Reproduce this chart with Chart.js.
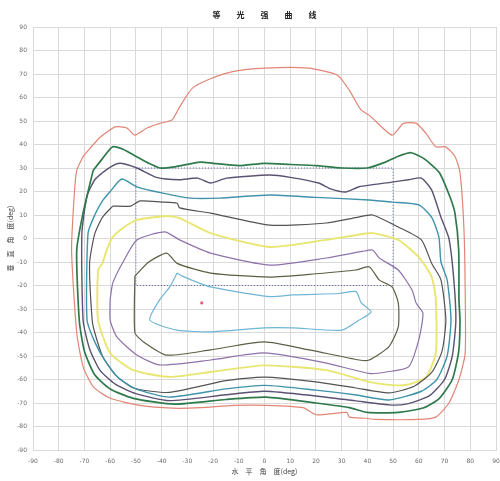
<!DOCTYPE html>
<html>
<head>
<meta charset="utf-8">
<script src="https://cdn.jsdelivr.net/npm/chart.js@4.4.1/dist/chart.umd.min.js"></script>
<style>
  html, body { margin: 0; padding: 0; background: #fff; }
  #wrap { width: 500px; height: 481px; }
</style>
</head>
<body>
<div id="wrap"><canvas id="isoChart"></canvas></div>
<script>
// Text
const titleText = "等　　光　　强　　曲　　线";
const xTitle = "水　平　角　度(deg)";
const yTitle = "垂　直　角　度(deg)";

// Tick values, both axes
const angleTicks = [-90, -80, -70, -60, -50, -40, -30, -20, -10, 0, 10, 20, 30, 40, 50, 60, 70, 80, 90];

// Contours, [horizontal, vertical] in degrees, outer to inner
const contourRed = [
  [-70.5, 35], [-64, 43], [-58, 47.5], [-53.5, 47], [-50.4, 44], [-45.7, 47], [-40.7, 49], [-36, 50.4],
  [-33, 56], [-28, 64], [-21, 68], [-12.4, 71], [0, 72.5], [17, 72.5], [28.4, 69.5], [33, 63],
  [37.5, 54.7], [40.7, 52.5], [49.6, 44], [54, 49], [59, 49], [62.8, 44.7], [66.6, 39], [70.4, 39],
  [74, 35], [76, 28], [77.5, 5], [78, -20], [78, -49], [75.6, -60], [71.7, -70], [66.6, -76],
  [60, -77], [43, -77], [39.5, -76.5], [33, -76], [32, -74], [20, -75], [15, -72], [0.6, -71],
  [-12, -71], [-25, -72], [-35.6, -72.2], [-48.4, -71], [-60, -68], [-66.6, -63], [-70.5, -54.6],
  [-73, -40], [-75, -5], [-74, 18], [-73, 29], [-70.5, 35]
];
const contourGreen = [
  [-66.6, 29], [-63, 34], [-59, 39], [-55, 38], [-50, 35], [-45, 32], [-40.7, 30], [-35, 30.5],
  [-25, 32.5], [-20, 32], [-10, 31], [0, 32], [10, 31.5], [20, 31], [30, 30], [40, 30],
  [47, 32.5], [52, 35], [57, 36.5], [62, 34], [68, 28], [72, 18], [74, 11], [75.5, -5],
  [75.6, -26], [76, -35], [75.5, -48], [73, -60], [68, -68], [62, -72], [52, -74], [40, -74],
  [33, -72], [20, -70], [0.6, -67.5], [-15, -68.5], [-35, -70.5], [-51, -68], [-60, -64],
  [-66, -58], [-70, -48], [-72, -35], [-73, -5], [-70.5, 11], [-66.6, 29]
];
const contourSlate = [
  [-63, 28], [-59, 31], [-56, 32], [-49.6, 30], [-42, 26], [-33, 25], [-26, 25.7], [-21, 23.6],
  [-14.7, 25.7], [2, 27], [10, 26], [21, 23.6], [26, 21], [31.6, 19.8], [36.8, 22], [49.6, 24],
  [56, 25], [61, 25.7], [65, 20.6], [68.6, 9], [71.7, 0], [73.6, -17.6], [74.4, -35], [73, -50],
  [70, -60], [64, -67], [55, -70.5], [48.4, -70.8], [35, -69], [20, -67], [0, -65], [-15, -66.5],
  [-37, -69], [-50, -66], [-58, -62], [-64, -56], [-68, -47], [-70.5, -35], [-71, 2], [-69, 18],
  [-66, 25], [-63, 28]
];
const contourTeal = [
  [-60, 20], [-55.5, 25.3], [-49.6, 22], [-39.5, 19.3], [-29, 17.2], [-17.4, 17.2], [2, 18.5],
  [20, 17.5], [40.7, 16.4], [49.6, 15.5], [60, 14.3], [65, 9], [67.8, 0.6], [68.6, -10],
  [71, -17.6], [72.5, -34.7], [71, -50], [67, -60], [61, -65], [48.4, -68.7], [35, -66.5],
  [20, -64.5], [0, -62.5], [-15, -64], [-37, -67.5], [-50, -64], [-57, -59], [-62, -52],
  [-66, -44], [-69, -34.7], [-68.6, 2.3], [-66, 10], [-63, 16], [-60, 20]
];
const contourGray = [
  [-59, 13.8], [-52, 13.8], [-48.4, 16], [-40, 15.5], [-34, 15], [-33, 13], [-21, 10.8], [2, 5.7],
  [24, 6.6], [36, 9], [42, 10], [52, 4.9], [61, -0.6], [65, -10.6], [68.6, -17.6], [70.5, -34.7],
  [69, -48], [65, -57], [58, -63], [48.4, -65.7], [35, -63.5], [20, -61], [0, -59], [-15, -60.5],
  [-37, -65.5], [-51, -63.6], [-58, -58], [-63, -50], [-66, -40], [-67, -34.7], [-68, -10.6],
  [-66, 2], [-63, 9], [-59, 13.8]
];
const contourYellow = [
  [-63, -10.6], [-61, -4], [-59, 0.6], [-55, 4.5], [-49.6, 7.9], [-38, 9.6], [-33, 8.7], [-21, 2.3],
  [2, -3.6], [24, -0.6], [36, 1.5], [42, 2.3], [52, -0.6], [60, -7.9], [65, -16.4], [66.6, -26],
  [66.6, -48.7], [62.8, -59], [55, -62.3], [48.4, -62.3], [40.7, -61], [24, -56], [0, -54],
  [-21, -56.8], [-36.8, -58.9], [-51, -56], [-60, -48.7], [-64.7, -34.7], [-64.7, -13.4], [-63, -10.6]
];
const contourPurple = [
  [-60, -26], [-59, -19], [-55, -10], [-49.6, -0.6], [-38.8, 2.8], [-33, -0.6], [-21, -6.2],
  [2, -11.3], [24, -8.3], [38, -5.5], [42, -4.9], [44.6, -8.3], [52, -13.4], [57.4, -22],
  [59, -27.6], [61.6, -31.8], [60, -43], [56, -54.6], [47.3, -56.8], [40.7, -57.4], [24, -53],
  [0, -48.7], [-21, -51.7], [-40.7, -53.8], [-49.6, -49.6], [-57.4, -41.9], [-60, -34.7], [-60, -26]
];
const contourOlive = [
  [-50.4, -16], [-45, -10], [-38, -6.2], [-34, -10.6], [-21, -14.7], [2, -16.4], [20, -15],
  [35.6, -13.4], [40.7, -12], [44.6, -17.6], [49.6, -20.6], [52, -27.4], [52, -37.6], [48.4, -46],
  [40.7, -51.7], [36.8, -51.7], [17.4, -47.4], [0, -44], [-21, -47.4], [-38, -49.6], [-47, -44],
  [-50.4, -40], [-50.4, -16]
];
const contourBlue = [
  [-34, -14.7], [-32, -16], [-21, -20.6], [2, -24.7], [11, -24], [29, -23.4], [35.6, -22.6],
  [37.6, -27.4], [41.5, -31.2], [36.8, -34.7], [30, -39], [11, -38], [0, -38], [-21, -39.7],
  [-34, -39], [-44.6, -34.7], [-40.7, -26], [-36.8, -20.6], [-34, -14.7]
];
const peakPoint = [[-24.4, -27.4]];
const frameBox = [[-50, 30], [50, 30], [50, -20], [-50, -20], [-50, 30]];

function contourSet(points, color, width) {
  return {
    data: points.map(([x, y]) => ({ x, y })),
    borderColor: color,
    backgroundColor: color,
    borderWidth: width,
    showLine: true,
    pointRadius: 0,
    tension: 0.2,
    fill: false,
  };
}

// Title drawn over the plot area centre
const centerTitle = {
  id: "centerTitle",
  afterDraw(chart) {
    const { ctx, chartArea } = chart;
    ctx.save();
    ctx.font = "bold 8px 'Noto Sans CJK SC'";
    ctx.fillStyle = "#222";
    ctx.textAlign = "center";
    ctx.textBaseline = "middle";
    ctx.fillText(titleText, (chartArea.left + chartArea.right) / 2, 15);
    ctx.restore();
  },
};

const tickFont = { family: "'DejaVu Sans'", size: 6 };
const gridColor = "#dadada";

new Chart(document.getElementById("isoChart"), {
  type: "scatter",
  data: {
    datasets: [
      contourSet(contourRed, "#e28576", 1.2),
      contourSet(contourGreen, "#2f7a4c", 1.7),
      contourSet(contourSlate, "#5b5272", 1.4),
      contourSet(contourTeal, "#3f93aa", 1.4),
      contourSet(contourGray, "#535353", 1.2),
      contourSet(contourYellow, "#e8e670", 1.9),
      contourSet(contourPurple, "#8e72aa", 1.2),
      contourSet(contourOlive, "#5e5e44", 1.2),
      contourSet(contourBlue, "#6fb6d6", 1.2),
      {
        data: frameBox.map(([x, y]) => ({ x, y })),
        borderColor: "#4c5c9c",
        borderWidth: 1,
        borderDash: [1, 2],
        showLine: true,
        pointRadius: 0,
        tension: 0,
      },
      {
        data: peakPoint.map(([x, y]) => ({ x, y })),
        pointRadius: 1.6,
        pointBackgroundColor: "#e0607a",
        pointBorderWidth: 0,
        showLine: false,
      },
    ],
  },
  options: {
    responsive: true,
    maintainAspectRatio: false,
    animation: false,
    layout: { padding: { top: 27, right: 3, left: 0, bottom: 0 } },
    plugins: {
      legend: { display: false },
      tooltip: { enabled: false },
      title: { display: false },
    },
    scales: {
      x: {
        type: "linear",
        min: -90,
        max: 90,
        afterBuildTicks: (scale) => {
          scale.ticks = angleTicks.map((v) => ({ value: v }));
        },
        afterFit: (scale) => {
          scale.height = 31;
          // let the plot run up to the right edge like the original
          scale.paddingLeft = 0;
          scale.paddingRight = 0;
        },
        grid: { color: gridColor, drawTicks: false },
        border: { color: gridColor },
        ticks: { font: tickFont, color: "#6a6a6a", padding: 8, autoSkip: false, maxRotation: 0 },
        title: {
          display: true,
          text: xTitle,
          font: { family: "'Noto Sans CJK SC'", size: 7 },
          color: "#444",
          padding: { top: 0, bottom: 5 },
        },
      },
      y: {
        type: "linear",
        min: -90,
        max: 90,
        afterBuildTicks: (scale) => {
          scale.ticks = angleTicks.map((v) => ({ value: v }));
        },
        afterFit: (scale) => {
          scale.width = 33;
          scale.paddingTop = 0;
          scale.paddingBottom = 0;
        },
        grid: { color: gridColor, drawTicks: false },
        border: { color: gridColor },
        ticks: { font: tickFont, color: "#6a6a6a", padding: 6, autoSkip: false },
        title: {
          display: true,
          text: yTitle,
          font: { family: "'Noto Sans CJK SC'", size: 7 },
          color: "#444",
          padding: { top: 6, bottom: 0 },
        },
      },
    },
  },
  plugins: [centerTitle],
});
</script>
</body>
</html>
